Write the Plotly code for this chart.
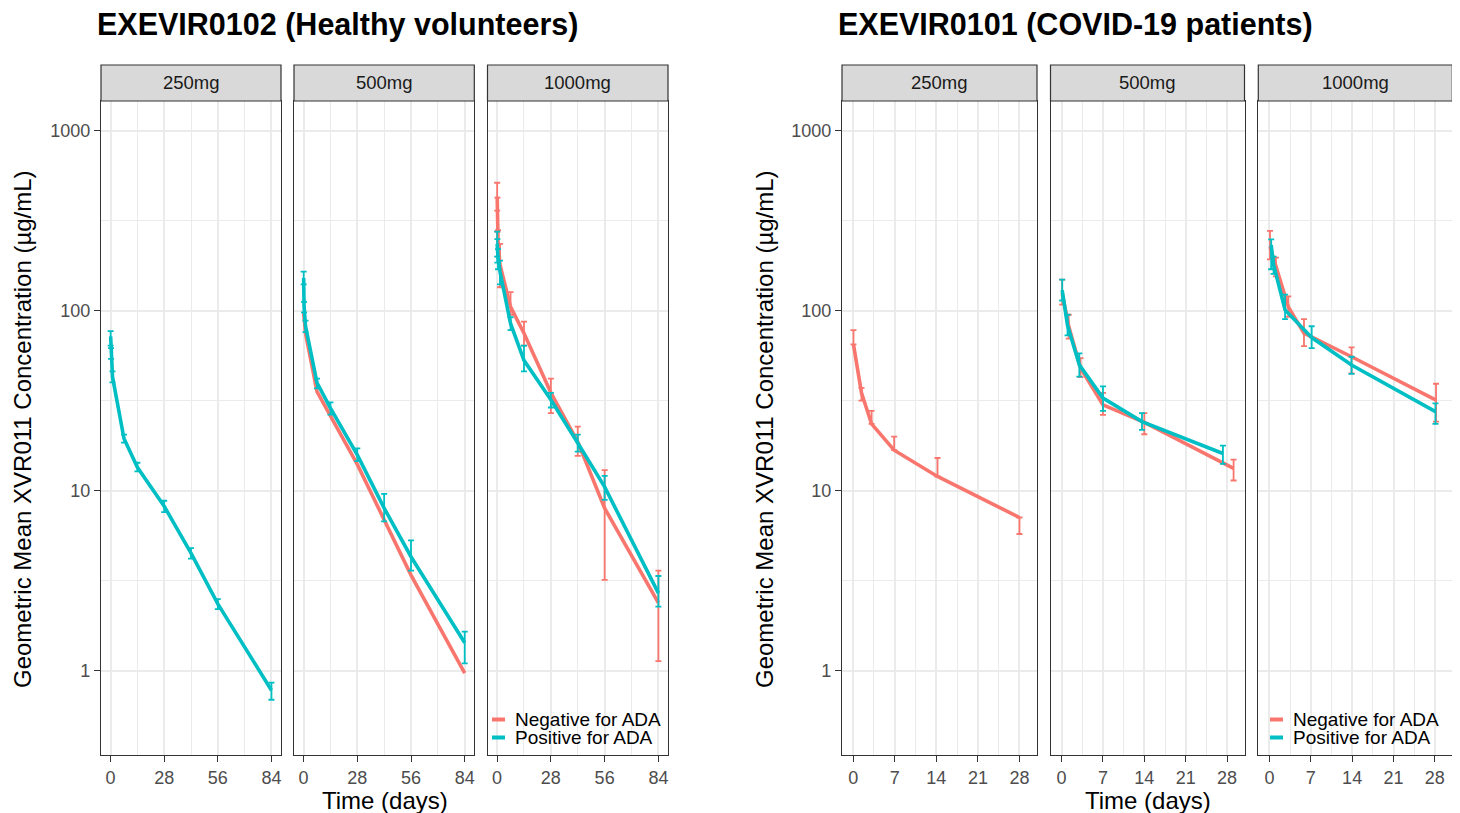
import plotly.graph_objects as go

# ---------------- data ----------------
RED = "#F8766D"
CYAN = "#00BFC4"

# EXEVIR0102 (Healthy volunteers)
hv_250_pos_t = [0.04, 0.25, 1, 7, 14, 28, 42, 56, 84]
hv_250_pos_v = [72, 58, 43, 19.5, 13.5, 8.2, 4.5, 2.35, 0.78]
hv_250_pos_lo = [64, 54, 40, 18.5, 12.8, 7.6, 4.2, 2.2, 0.69]
hv_250_pos_hi = [77, 62, 46, 20.5, 14.3, 8.8, 4.8, 2.5, 0.86]

hv_500_neg_t = [0.04, 1, 7, 28, 56, 84]
hv_500_neg_v = [97, 75, 35.5, 14.0, 3.4, 0.97]

hv_500_pos_t = [0.04, 0.25, 1, 7, 14, 28, 42, 56, 84]
hv_500_pos_v = [152, 105, 82, 39.7, 28.8, 15.8, 8.0, 4.3, 1.43]
hv_500_pos_lo = [140, 98, 76, 37, 26.5, 14.6, 6.75, 3.6, 1.1]
hv_500_pos_hi = [165, 112, 88, 42, 31, 17.2, 9.6, 5.3, 1.65]

hv_1000_neg_t = [0.04, 0.17, 0.5, 1.5, 7, 14, 28, 42, 56, 84]
hv_1000_neg_v = [430, 340, 240, 180, 105, 75, 35, 18.7, 8.0, 2.38]
hv_1000_neg_lo = [360, 275, 200, 135, 95, 64, 27, 15.6, 3.2, 1.13]
hv_1000_neg_hi = [514, 425, 280, 235, 127, 87, 42, 22.7, 13.0, 3.6]

hv_1000_pos_t = [0.04, 0.17, 0.5, 1.5, 7, 14, 28, 42, 56, 84]
hv_1000_pos_v = [235, 215, 195, 165, 85, 53, 32, 18.4, 10.5, 2.7]
hv_1000_pos_lo = [200, 185, 170, 140, 78, 46, 29, 16.5, 8.9, 2.27]
hv_1000_pos_hi = [275, 250, 220, 190, 92, 64, 35, 20.5, 12.1, 3.36]

# EXEVIR0101 (COVID-19 patients)
cv_250_neg_t = [0.05, 1.4, 3.1, 6.9, 14.2, 28]
cv_250_neg_v = [65, 35, 23.5, 16.8, 12.0, 7.1]
cv_250_neg_lo = [65, 31.7, 23.5, 16.8, 12.0, 5.75]
cv_250_neg_hi = [78, 37.3, 27.8, 20.0, 15.2, 7.1]

cv_500_neg_t = [0.1, 1.2, 3.2, 7, 14, 29.1]
cv_500_neg_v = [125, 82, 48, 30, 24, 13.3]
cv_500_neg_lo = [108, 70, 42.8, 26.4, 20.6, 11.4]
cv_500_neg_hi = [149, 95, 54.6, 35, 27, 14.9]

cv_500_pos_t = [0.1, 1, 3, 7, 13.6, 27.3]
cv_500_pos_v = [130, 83, 50, 32.7, 24.2, 16.1]
cv_500_pos_lo = [114, 73, 43, 27.8, 21.8, 14.1]
cv_500_pos_hi = [149, 95, 58, 38, 27, 17.8]

cv_1000_neg_t = [0.1, 1.1, 3.2, 5.85, 13.9, 28.2]
cv_1000_neg_v = [227, 175, 105, 75, 55.5, 31.9]
cv_1000_neg_lo = [193, 155, 92.6, 63.6, 44.9, 24.2]
cv_1000_neg_hi = [278, 197, 120, 89.7, 62.5, 39.3]

cv_1000_pos_t = [0.3, 0.7, 2.65, 7.15, 13.9, 28.1]
cv_1000_pos_v = [232, 180, 101, 71, 49.9, 27.5]
cv_1000_pos_lo = [170, 160, 89.7, 62, 44.6, 23.5]
cv_1000_pos_hi = [249, 200, 123, 82, 55.5, 30.6]

facet_labels = ["250mg", "500mg", "1000mg"]
legend_labels = ["Negative for ADA", "Positive for ADA"]
titles = ["EXEVIR0102 (Healthy volunteers)", "EXEVIR0101 (COVID-19 patients)"]
y_title = "Geometric Mean XVR011 Concentration (µg/mL)"
x_title = "Time (days)"
y_ticks = [1, 10, 100, 1000]
y_minor = [3.1623, 31.623, 316.23]
hv_xticks = [0, 28, 56, 84]
hv_xminor = [14, 42, 70]
cv_xticks = [0, 7, 14, 21, 28]
cv_xminor = [3.5, 10.5, 17.5, 24.5]

# ---------------- layout helpers ----------------
# the page body has an 8px margin: the figure is drawn from (8, 8)
OFF = 8
W, H = 1460 - OFF, 813 - OFF
FONT = "Liberation Sans, Arial, Helvetica, sans-serif"


def fx(p):
    return (p - OFF) / W


def fy(p):
    return 1 - (p - OFF) / H


PANEL_TOP, PANEL_BOT = 101, 755
STRIP_TOP = 65
HV_X = [(101, 281), (294, 474.3), (487.5, 668)]
CV_X = [(842, 1037), (1050.5, 1244.5), (1258.3, 1452.3)]

fig = go.Figure()


def add_series(idx, t, v, color, lo=None, hi=None):
    err = None
    if lo is not None:
        err = dict(type="data", symmetric=False,
                   array=[h - m for h, m in zip(hi, v)],
                   arrayminus=[m - l for m, l in zip(v, lo)],
                   color=color, thickness=1.8, width=3)
    suffix = "" if idx == 1 else str(idx)
    fig.add_trace(go.Scatter(x=t, y=v, mode="lines",
                             line=dict(color=color, width=3.6),
                             error_y=err, showlegend=False,
                             xaxis="x" + suffix, yaxis="y" + suffix,
                             hoverinfo="skip"))


# HV
add_series(1, hv_250_pos_t, hv_250_pos_v, CYAN, hv_250_pos_lo, hv_250_pos_hi)
add_series(2, hv_500_neg_t, hv_500_neg_v, RED)
add_series(2, hv_500_pos_t, hv_500_pos_v, CYAN, hv_500_pos_lo, hv_500_pos_hi)
add_series(3, hv_1000_neg_t, hv_1000_neg_v, RED, hv_1000_neg_lo, hv_1000_neg_hi)
add_series(3, hv_1000_pos_t, hv_1000_pos_v, CYAN, hv_1000_pos_lo, hv_1000_pos_hi)
# COVID
add_series(4, cv_250_neg_t, cv_250_neg_v, RED, cv_250_neg_lo, cv_250_neg_hi)
add_series(5, cv_500_neg_t, cv_500_neg_v, RED, cv_500_neg_lo, cv_500_neg_hi)
add_series(5, cv_500_pos_t, cv_500_pos_v, CYAN, cv_500_pos_lo, cv_500_pos_hi)
add_series(6, cv_1000_neg_t, cv_1000_neg_v, RED, cv_1000_neg_lo, cv_1000_neg_hi)
add_series(6, cv_1000_pos_t, cv_1000_pos_v, CYAN, cv_1000_pos_lo, cv_1000_pos_hi)

layout = dict(width=W, height=H, autosize=False,
              margin=dict(l=0, r=0, t=0, b=0),
              paper_bgcolor="white", plot_bgcolor="white",
              font=dict(family=FONT), showlegend=False)

GRID = "#EBEBEB"
AXC = "#333333"
TICKF = dict(family=FONT, size=18, color="#4D4D4D")

shapes = []
annotations = []

all_facets = [(HV_X[i], "hv", i) for i in range(3)] + [(CV_X[i], "cv", i) for i in range(3)]
for k, ((x0, x1), grp, i) in enumerate(all_facets, start=1):
    suffix = "" if k == 1 else str(k)
    if grp == "hv":
        xr, xt, xm = [-5.0, 89.0], hv_xticks, hv_xminor
    else:
        xr, xt, xm = [-1.88, 30.95], cv_xticks, cv_xminor
    layout["xaxis" + suffix] = dict(
        domain=[fx(x0), fx(x1)], anchor="y" + suffix, range=xr,
        tickmode="array", tickvals=xt, ticktext=[str(v) for v in xt],
        showgrid=True, gridcolor=GRID, gridwidth=1.5, zeroline=False,
        minor=dict(tickmode="array", tickvals=xm, showgrid=True,
                   gridcolor=GRID, gridwidth=1.0, ticks=""),
        showline=True, mirror=True, linecolor=AXC, linewidth=1.2,
        ticks="outside", ticklen=6, tickwidth=1.3, tickcolor=AXC,
        tickfont=TICKF, fixedrange=True)
    first = (i == 0)
    layout["yaxis" + suffix] = dict(
        domain=[fy(PANEL_BOT), fy(PANEL_TOP)], anchor="x" + suffix,
        type="log", range=[-0.468, 3.165],
        tickmode="array", tickvals=y_ticks, ticktext=[str(v) for v in y_ticks],
        showticklabels=first, ticks="outside" if first else "",
        ticklen=6, tickwidth=1.3, tickcolor=AXC, tickfont=TICKF,
        showgrid=True, gridcolor=GRID, gridwidth=1.5, zeroline=False,
        minor=dict(tickmode="array", tickvals=y_minor, showgrid=True,
                   gridcolor=GRID, gridwidth=1.0, ticks=""),
        showline=True, mirror=True, linecolor=AXC, linewidth=1.2,
        fixedrange=True)
    # strip
    shapes.append(dict(type="rect", xref="paper", yref="paper",
                       x0=fx(x0), x1=fx(x1), y0=fy(PANEL_TOP), y1=fy(STRIP_TOP),
                       fillcolor="#D9D9D9", line=dict(color=AXC, width=1.2),
                       layer="above"))
    annotations.append(dict(xref="paper", yref="paper", x=fx((x0 + x1) / 2),
                            y=fy(83), text=facet_labels[i], showarrow=False,
                            xanchor="center", yanchor="middle",
                            font=dict(family=FONT, size=18.5, color="#1A1A1A")))

# titles and axis titles
for g, (tx, cx, ytx) in enumerate([(95, 384.5, 22), (836, 1147.5, 764)]):
    annotations.append(dict(xref="paper", yref="paper", x=fx(tx), y=fy(25),
                            text="<b>" + titles[g] + "</b>", showarrow=False,
                            xanchor="left", yanchor="middle",
                            font=dict(family=FONT, size=30.5, color="black")))
    annotations.append(dict(xref="paper", yref="paper", x=fx(cx), y=fy(800),
                            text=x_title, showarrow=False,
                            xanchor="center", yanchor="middle",
                            font=dict(family=FONT, size=24, color="black")))
    annotations.append(dict(xref="paper", yref="paper", x=fx(ytx), y=fy(429),
                            text=y_title, showarrow=False, textangle=-90,
                            xanchor="center", yanchor="middle",
                            font=dict(family=FONT, size=24, color="black")))

# legends (inside the 1000mg facets)
for text_x in (515, 1293):
    for j, (lab, col) in enumerate(zip(legend_labels, [RED, CYAN])):
        yy = 719.5 + 18 * j
        shapes.append(dict(type="line", xref="paper", yref="paper",
                           x0=fx(text_x - 23), x1=fx(text_x - 10),
                           y0=fy(yy), y1=fy(yy),
                           line=dict(color=col, width=4), layer="above"))
        annotations.append(dict(xref="paper", yref="paper", x=fx(text_x - 2),
                                y=fy(yy), text=lab, showarrow=False,
                                xanchor="left", yanchor="middle",
                                font=dict(family=FONT, size=19, color="black")))

layout["shapes"] = shapes
layout["annotations"] = annotations
fig.update_layout(**layout)
fig.write_html("out.html")
